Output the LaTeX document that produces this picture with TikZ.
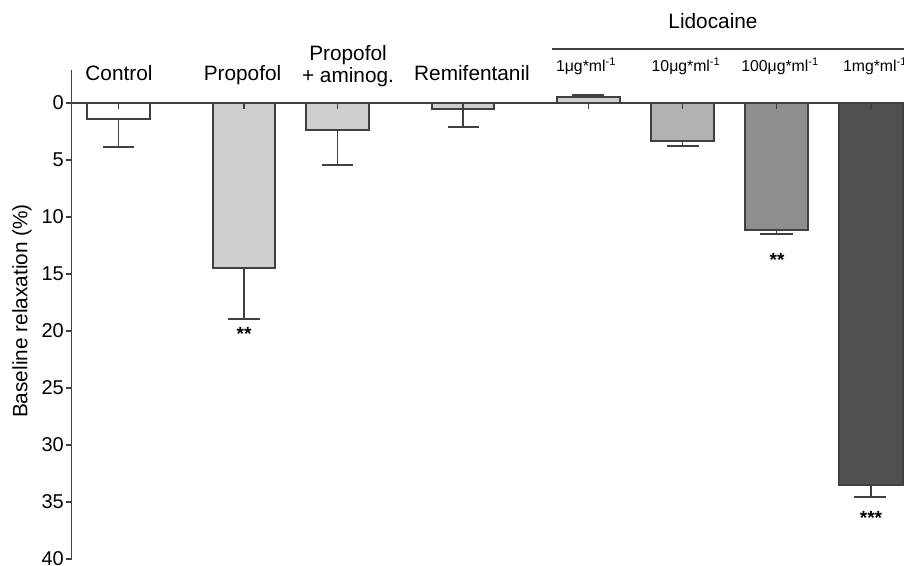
\documentclass[tikz,border=0pt]{standalone}
\usepackage{fontspec}
\setmainfont{Liberation Sans}
\definecolor{ln}{HTML}{404040}
\definecolor{gA}{HTML}{CFCFCF}
\definecolor{gB}{HTML}{B2B2B2}
\definecolor{gC}{HTML}{8E8E8E}
\definecolor{gD}{HTML}{505050}
\tikzset{
  barbox/.style={draw=ln, line width=1.3pt},
  errline/.style={draw=ln, line width=1.3pt},
  axisline/.style={draw=ln, line width=1.3pt},
  ticklab/.style={anchor=east, inner sep=0pt, font=\fontsize{20}{22}\selectfont},
  catlab/.style={anchor=base, inner sep=0pt, font=\fontsize{20.8}{23}\selectfont},
  sublab/.style={anchor=base, inner sep=0pt, font=\fontsize{15.8}{17}\selectfont},
  starlab/.style={inner sep=0pt, font=\fontsize{19}{20}\selectfont\bfseries}
}
\begin{document}
\begin{tikzpicture}[x=1pt,y=-1pt]
\useasboundingbox (0,0) rectangle (904,565);
% axis
\coordinate (atop) at (71.5,70);
\coordinate (abot) at (71.5,559);
\draw[axisline] (atop) -- (abot);
\foreach \v in {0,5,...,40}{
  \pgfmathsetmacro{\yy}{103+11.4*\v}
  \draw[axisline] (66,\yy) -- (71.5,\yy);
  \node[ticklab] (t\v) at (64,\yy) {\v};
}
\coordinate (zl) at (66,103);
\coordinate (zr) at (904,103);
\draw[axisline] (zl) -- (zr);
\node[rotate=90, inner sep=0pt, font=\fontsize{20.8}{23}\selectfont] (ylab) at (22,311) {Baseline relaxation (\%)};

% bars: x1 x2 ybottom ywhisker capL capR colour
\foreach \xa/\xb/\yb/\yw/\ca/\cb/\col in {
  87/150/119/147/103/134/white,
  213/275/268/319/228/260/gA,
  306/369/130/165/322/353/gA,
  432/494/109/127/448/479/gA,
  557/620/97/95/572/604/gA,
  651/714/141/146/667/699/gB,
  745/808/230/234/760/793/gC,
  839/903/485/497/854/886/gD}{
  \pgfmathsetmacro{\xc}{(\xa+\xb)/2}
  \draw[barbox, fill=\col] (\xa,103) rectangle (\xb,\yb);
  \draw[errline] (\xc,\yb) -- (\xc,\yw);
  \draw[errline] (\ca,\yw) -- (\cb,\yw);
  \draw[errline] (\xc,103) -- (\xc,108.5);
}

% category labels
\node[catlab] (lctrl) at (119,80.5) {Control};
\node[catlab] (lprop) at (242.5,80.5) {Propofol};
\node[catlab] (lpa1) at (348,60) {Propofol};
\node[catlab] (lpa2) at (348,82.5) {+ aminog.};
\node[catlab] (lremi) at (472,80) {Remifentanil};
\node[catlab] (llido) at (713,28) {Lidocaine};
\coordinate (lidl) at (552,49);
\coordinate (lidr) at (904,49);
\draw[axisline] (lidl) -- (lidr);
\node[sublab] (s1) at (586,71) {1μg*ml\textsuperscript{-1}};
\node[sublab] (s2) at (686,71) {10μg*ml\textsuperscript{-1}};
\node[sublab] (s3) at (780,71) {100μg*ml\textsuperscript{-1}};
\node[sublab] (s4) at (875,71) {1mg*ml\textsuperscript{-1}};

% significance
\node[starlab] (st1) at (244,334) {**};
\node[starlab] (st2) at (777,260) {**};
\node[starlab] (st3) at (871,518) {***};
\end{tikzpicture}
\end{document}
